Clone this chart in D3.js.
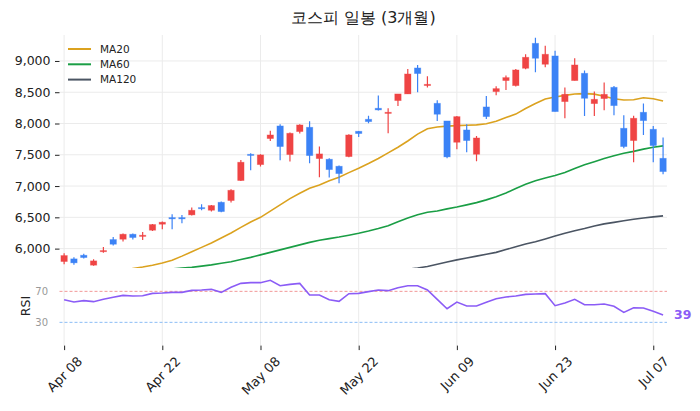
<!DOCTYPE html>
<html>
<head>
<meta charset="utf-8">
<script src="https://cdn.jsdelivr.net/npm/d3@7"></script>
<style>
  body { margin: 0; background: #fff; }
  text { font-family: "DejaVu Sans", sans-serif; }
</style>
</head>
<body>
<div id="chart-area"></div>
<script>
// trading days (KRX), Apr 08 - Jul 08
var dates = ["2026-04-08","2026-04-09","2026-04-10","2026-04-13","2026-04-14","2026-04-15","2026-04-16","2026-04-17","2026-04-20","2026-04-21",
  "2026-04-22","2026-04-23","2026-04-24","2026-04-27","2026-04-28","2026-04-29","2026-04-30","2026-05-04","2026-05-06","2026-05-07",
  "2026-05-08","2026-05-11","2026-05-12","2026-05-13","2026-05-14","2026-05-15","2026-05-18","2026-05-19","2026-05-20","2026-05-21",
  "2026-05-22","2026-05-26","2026-05-27","2026-05-28","2026-05-29","2026-06-01","2026-06-02","2026-06-04","2026-06-05","2026-06-08",
  "2026-06-09","2026-06-10","2026-06-11","2026-06-12","2026-06-15","2026-06-16","2026-06-17","2026-06-18","2026-06-19","2026-06-22",
  "2026-06-23","2026-06-24","2026-06-25","2026-06-26","2026-06-29","2026-06-30","2026-07-01","2026-07-02","2026-07-03","2026-07-06",
  "2026-07-07","2026-07-08"];

var opens = [5793,5836,5894,5735,5958,6145,6150,6230,6198,6294,6390,6496,6496,6539,6656,6613,6741,6768,7088,7508,
  7343,7759,7961,7503,7871,7940,7439,7429,7317,7471,7876,8068,8244,8164,8366,8473,8888,8606,8323,8041,
  7700,7897,7508,8265,8510,8686,8606,8883,9282,8947,9080,8350,8686,8803,8318,8398,8579,7924,7727,8180,
  7908,7444];
var highs = [5926,5862,5916,5830,6027,6187,6241,6241,6267,6395,6432,6549,6539,6656,6709,6699,6752,6949,7418,7524,
  7508,7886,7988,7855,7988,8036,7631,7444,7327,7828,7881,8126,8446,8244,8473,8872,8936,8755,8371,8041,
  8121,7988,7801,8441,8595,8766,8872,9106,9373,9245,9165,8574,9043,8846,8510,8654,8600,8132,8126,8318,
  7961,7775];
var lows = [5750,5740,5841,5724,5932,6049,6113,6145,6139,6283,6310,6310,6406,6528,6613,6592,6581,6736,7082,7253,
  7311,7721,7413,7391,7839,7365,7141,7136,7045,7460,7785,8004,8206,7844,8281,8473,8499,8574,8041,7445,
  7588,7540,7397,8073,8451,8537,8590,8867,8819,8899,8190,8084,8686,8121,8121,8212,8132,7604,7381,7817,
  7381,7189];
var closes = [5889,5772,5857,5804,5969,6070,6230,6177,6214,6385,6422,6475,6475,6613,6640,6688,6592,6933,7381,7492,
  7498,7817,7631,7844,7977,7487,7514,7263,7199,7817,7839,8030,8217,8180,8473,8792,8798,8627,8148,7466,
  8110,7727,7769,8110,8558,8734,8856,9059,9043,9107,8190,8467,8936,8403,8387,8467,8286,7631,8084,8046,
  7647,7231];

var ma20 = [5560,5570,5585,5600,5615,5635,5655,5680,5705,5735,5770,5815,5880,5950,6020,6090,6170,6250,6340,6425,
  6500,6600,6699,6800,6886,6966,7018,7085,7141,7215,7285,7360,7440,7530,7620,7720,7830,7915,7945,7958,
  7966,7972,7978,7995,8035,8095,8150,8240,8320,8393,8425,8450,8472,8478,8470,8435,8395,8377,8380,8412,
  8395,8361];
var ma60 = [5540,5550,5560,5575,5590,5600,5615,5630,5640,5655,5665,5675,5690,5700,5720,5740,5765,5790,5825,5860,
  5900,5940,5980,6020,6060,6100,6135,6160,6185,6215,6245,6280,6320,6365,6430,6490,6540,6580,6600,6635,
  6665,6699,6735,6779,6830,6890,6960,7030,7085,7130,7170,7215,7280,7340,7390,7440,7485,7525,7555,7590,
  7620,7642];
var ma120 = [5200,5210,5220,5230,5240,5250,5260,5270,5280,5290,5300,5312,5325,5338,5350,5362,5375,5390,5405,5420,
  5435,5450,5465,5480,5495,5510,5525,5540,5555,5570,5585,5600,5615,5630,5650,5670,5690,5715,5750,5785,
  5820,5850,5880,5910,5940,5985,6030,6075,6110,6155,6200,6245,6285,6320,6360,6395,6420,6445,6470,6490,
  6508,6523];
var rsi = [59.2,56.2,58,56.7,59.7,62.3,64.8,64,64.4,67.4,67.9,68.7,68.7,71.3,71.7,72.6,68.7,75.2,80.3,81.2,
  81.2,84.2,77.3,79,80.3,65.3,65.3,59.2,57.1,67,67.4,69.6,71.7,70.9,74.7,77.3,77.3,71.7,59.7,47.6,
  56.2,51.1,51.1,55.8,60.5,62.7,64,66.1,66.6,67,51.5,54.9,59.7,52.8,52.8,53.7,50.7,42.9,48.9,48.5,
  44.2,39.4];

var priceTicks = [6000, 6500, 7000, 7500, 8000, 8500, 9000];
var rsiTicks = [30, 70];
var tickIdx = [0, 10, 20, 30, 40, 50, 60];
var maNames = ["MA20", "MA60", "MA120"];
var maColors = ["#dba21f", "#1a9e45", "#4b5563"];

var parseDate = d3.timeParse("%Y-%m-%d");
var fmt = d3.timeFormat("%b %d");

var svg = d3.select("#chart-area").append("svg")
    .attr("width", 700)
    .attr("height", 411);

var pLeft = 59.5, pRight = 667, pTop = 35, pMid = 268, pBottom = 345.6;

var x = d3.scaleLinear().domain([-0.47, 61.4]).range([pLeft, pRight]);
var y = d3.scaleLinear().domain([5690, 9415]).range([pMid, pTop]);
var yr = d3.scaleLinear().domain([0, 100]).range([pBottom, 268.1]);

svg.append("defs").append("clipPath").attr("id", "pclip")
  .append("rect").attr("x", pLeft).attr("y", pTop).attr("width", pRight - pLeft).attr("height", pMid - pTop);

// grid
svg.append("g").selectAll("line").data(tickIdx).enter().append("line")
    .attr("x1", (d) => x(d)).attr("x2", (d) => x(d))
    .attr("y1", pTop).attr("y2", pBottom)
    .attr("stroke", "#ebebeb").attr("stroke-width", 1);
svg.append("g").selectAll("line").data(priceTicks).enter().append("line")
    .attr("x1", pLeft).attr("x2", pRight)
    .attr("y1", (d) => y(d)).attr("y2", (d) => y(d))
    .attr("stroke", "#ebebeb").attr("stroke-width", 1);

// price y axis
var yAxis = svg.append("g").attr("transform", "translate(" + pLeft + ",0)")
    .call(d3.axisLeft(y).tickValues(priceTicks).tickSize(4.5).tickPadding(4.5).tickFormat(d3.format(",")));
yAxis.select(".domain").remove();
yAxis.selectAll("text").attr("font-size", 12.5).attr("fill", "#222").attr("font-family", "DejaVu Sans");
yAxis.selectAll("line").attr("stroke", "#222");

// MA lines
var plot = svg.append("g").attr("clip-path", "url(#pclip)");
[ma20, ma60, ma120].forEach((arr, k) => {
    var line = d3.line().x((d, i) => x(i)).y((d) => y(d));
    plot.append("path").datum(arr)
        .attr("d", line)
        .attr("fill", "none")
        .attr("stroke", maColors[k])
        .attr("stroke-width", 1.6);
});

// candles
var cw = 6.4;
var candles = plot.selectAll("g.candle").data(closes).enter().append("g");
candles.append("line")
    .attr("x1", (d, i) => x(i)).attr("x2", (d, i) => x(i))
    .attr("y1", (d, i) => y(highs[i])).attr("y2", (d, i) => y(lows[i]))
    .attr("stroke", (d, i) => d >= opens[i] ? "#ef4444" : "#3b82f6")
    .attr("stroke-width", 1.2);
candles.append("rect")
    .attr("x", (d, i) => x(i) - cw / 2)
    .attr("width", cw)
    .attr("y", (d, i) => y(Math.max(d, opens[i])))
    .attr("height", (d, i) => Math.max(1.2, Math.abs(y(d) - y(opens[i]))))
    .attr("fill", (d, i) => d >= opens[i] ? "#ef4444" : "#3b82f6")
    .attr("stroke", (d, i) => d >= opens[i] ? "#ef4444" : "#3b82f6")
    .attr("stroke-opacity", 0.4)
    .attr("stroke-width", 0.8);

// legend
var leg = svg.append("g").selectAll("g").data(maNames).enter().append("g")
    .attr("transform", (d, i) => "translate(68," + (49 + i * 15.3) + ")");
leg.append("line").attr("x1", 0).attr("x2", 23).attr("y1", 0).attr("y2", 0)
    .attr("stroke", (d, i) => maColors[i]).attr("stroke-width", 2);
leg.append("text").attr("x", 32).attr("y", 0).attr("dy", "0.35em")
    .attr("font-size", 10.5).attr("fill", "#222").text((d) => d);

// RSI panel
svg.append("g").selectAll("line").data(rsiTicks).enter().append("line")
    .attr("x1", pLeft).attr("x2", pRight)
    .attr("y1", (d) => yr(d)).attr("y2", (d) => yr(d))
    .attr("stroke", (d) => d == 70 ? "#f08c8c" : "#7fb5f5")
    .attr("stroke-width", 0.9)
    .attr("stroke-dasharray", "3,2");
svg.append("g").selectAll("text").data(rsiTicks).enter().append("text")
    .attr("x", 48).attr("y", (d) => yr(d)).attr("dy", "0.35em")
    .attr("text-anchor", "end").attr("font-size", 10).attr("fill", "#999")
    .text((d) => d);
svg.append("path").datum(rsi)
    .attr("d", d3.line().x((d, i) => x(i)).y((d) => yr(d)))
    .attr("fill", "none").attr("stroke", "#8b5cf6").attr("stroke-width", 1.6);
svg.append("text")
    .attr("x", x(rsi.length - 1) + 11).attr("y", yr(rsi[rsi.length - 1])).attr("dy", "0.35em")
    .attr("font-size", 12.5).attr("font-weight", "bold").attr("fill", "#8b5cf6")
    .text(Math.round(rsi[rsi.length - 1]));
svg.append("text")
    .attr("transform", "translate(30,306) rotate(-90)")
    .attr("text-anchor", "middle").attr("font-size", 12.5).attr("fill", "#222")
    .text("RSI");

// x axis
var xAxis = svg.append("g").attr("transform", "translate(0," + pBottom + ")")
    .call(d3.axisBottom(x).tickValues(tickIdx).tickSize(4.5)
        .tickFormat((i) => fmt(parseDate(dates[i]))));
xAxis.select(".domain").remove();
xAxis.selectAll("line").attr("stroke", "#222");
xAxis.selectAll("text")
    .attr("font-size", 13).attr("fill", "#222").attr("font-family", "DejaVu Sans")
    .attr("text-anchor", "middle").attr("dy", null).attr("y", 0)
    .attr("dominant-baseline", "central")
    .each(function() {
        var L = this.getComputedTextLength();
        var off = (L + 13 * 1.17) * 0.3536;
        d3.select(this).attr("transform", "translate(0," + (8 + off) + ") rotate(-45)");
    });

// title
svg.append("text")
    .attr("x", (pLeft + pRight) / 2).attr("y", 23)
    .attr("text-anchor", "middle")
    .attr("font-family", "Noto Sans CJK KR").attr("font-size", 16).attr("fill", "#222")
    .text("코스피 일봉 (3개월)");
</script>
</body>
</html>
